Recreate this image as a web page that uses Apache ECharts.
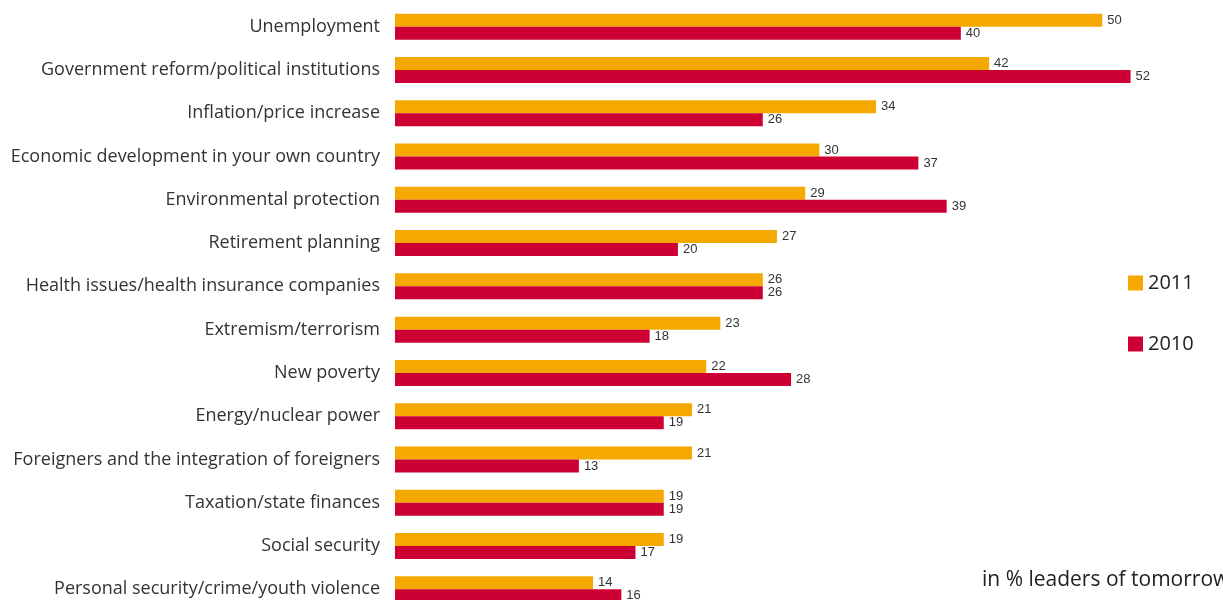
<!DOCTYPE html>
<html><head><meta charset="utf-8">
<script src="https://cdn.jsdelivr.net/npm/echarts@6/dist/echarts.min.js"></script>
<style>html,body{margin:0;padding:0;background:#fff}#c{width:1223px;height:600px}</style>
</head><body><div id="c"></div>
<script>
const categories = [
  "Unemployment",
  "Government reform/political institutions",
  "Inflation/price increase",
  "Economic development in your own country",
  "Environmental protection",
  "Retirement planning",
  "Health issues/health insurance companies",
  "Extremism/terrorism",
  "New poverty",
  "Energy/nuclear power",
  "Foreigners and the integration of foreigners",
  "Taxation/state finances",
  "Social security",
  "Personal security/crime/youth violence"
];
const values2011 = [50, 42, 34, 30, 29, 27, 26, 23, 22, 21, 21, 19, 19, 14];
const values2010 = [40, 52, 26, 37, 39, 20, 26, 18, 28, 19, 13, 19, 17, 16];
const seriesNames = ["2011", "2010"];
const note = "in % leaders of tomorrow";

const chart = echarts.init(document.getElementById('c'));
const labelStyle = {show: true, position: 'right', distance: 5, fontSize: 13, color: '#333', fontFamily: 'Liberation Sans'};
chart.setOption({
  animation: false,
  grid: {left: 395, top: 5, height: 606, width: 778, outerBoundsMode: 'none'},
  xAxis: {type: 'value', min: 0, max: 55, show: false},
  yAxis: {
    type: 'category', data: categories, inverse: true,
    axisLine: {show: false}, axisTick: {show: false},
    axisLabel: {fontSize: 18, color: '#333', margin: 15, fontFamily: 'Open Sans', padding: [3, 0, 0, 0]}
  },
  legend: {
    orient: 'vertical', left: 1123, top: 268, itemGap: 41,
    itemWidth: 15, itemHeight: 15, icon: 'rect',
    textStyle: {fontSize: 20, color: '#222', fontFamily: 'Open Sans'},
    data: seriesNames
  },
  graphic: [{type: 'text', left: 982, top: 570, style: {text: note, fontSize: 21, fill: '#222', fontFamily: 'Open Sans'}}],
  series: [
    {name: seriesNames[0], type: 'bar', data: values2011, barWidth: 13, barGap: '0%', itemStyle: {color: '#F5A800'}, label: labelStyle},
    {name: seriesNames[1], type: 'bar', data: values2010, barWidth: 13, barGap: '0%', itemStyle: {color: '#CC0033'}, label: labelStyle}
  ]
});
</script></body></html>
